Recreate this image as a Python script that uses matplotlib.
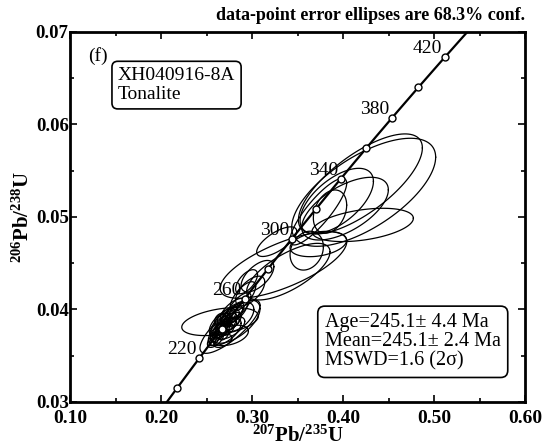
import matplotlib
matplotlib.use("Agg")

import numpy as np
import matplotlib.pyplot as plt

plt.rcParams["font.family"] = ["Liberation Serif", "DejaVu Serif"]
plt.rcParams["mathtext.fontset"] = "custom"
plt.rcParams["mathtext.rm"] = "Liberation Serif"
plt.rcParams["mathtext.bf"] = "Liberation Serif:bold"

# ---- Decay constants (per Ma) and concordia tick ages ----
LAMBDA_235 = 9.8485e-4
LAMBDA_238 = 1.55125e-4
tick_ages = [200, 220, 240, 260, 280, 300, 320, 340, 360, 380, 400, 420, 440]
label_ages = [220, 260, 300, 340, 380, 420]

# ---- Data-point error ellipses (207/235, 206/238, err x, err y, rho) ----
ell_x = [0.4227, 0.4191, 0.4216, 0.4022, 0.3931, 0.3857, 0.3729, 0.3729,
         0.3345, 0.3601, 0.3399, 0.3271,
         0.2649, 0.2758, 0.2813,
         0.262, 0.266, 0.270, 0.268, 0.274, 0.272, 0.278, 0.264, 0.276,
         0.280, 0.286, 0.270, 0.260, 0.284, 0.290, 0.298, 0.294, 0.306,
         0.276, 0.268,
         0.258, 0.263, 0.267, 0.271, 0.275, 0.279, 0.283, 0.265, 0.273,
         0.269, 0.277, 0.261, 0.272, 0.281, 0.266]
ell_y = [0.05267, 0.05357, 0.04914, 0.05090, 0.05173, 0.05058, 0.05058, 0.04708,
         0.04481, 0.04636, 0.04409, 0.04733,
         0.03869, 0.03814, 0.03869,
         0.0372, 0.0378, 0.0382, 0.0388, 0.0386, 0.0392, 0.0394, 0.0384, 0.0380,
         0.0398, 0.0404, 0.0376, 0.0368, 0.0392, 0.0414, 0.0420, 0.0430, 0.0436,
         0.0372, 0.0366,
         0.0366, 0.0374, 0.0380, 0.0384, 0.0389, 0.0393, 0.0399, 0.0390, 0.0378,
         0.0372, 0.0384, 0.0379, 0.0387, 0.0386, 0.0382]
ell_ex = [0.0791, 0.0681, 0.0557, 0.0476, 0.0403, 0.0183, 0.0311, 0.0311,
          0.0696, 0.0183, 0.0458, 0.0220,
          0.0421, 0.0330, 0.0275,
          0.008, 0.010, 0.012, 0.009, 0.014, 0.010, 0.012, 0.011, 0.016,
          0.015, 0.013, 0.018, 0.009, 0.018, 0.014, 0.016, 0.012, 0.018,
          0.020, 0.010,
          0.005, 0.006, 0.007, 0.006, 0.008, 0.007, 0.008, 0.006, 0.007,
          0.005, 0.006, 0.006, 0.004, 0.005, 0.004]
ell_ey = [0.00584, 0.00541, 0.00180, 0.00339, 0.00353, 0.00234, 0.00360, 0.00137,
          0.00360, 0.00210, 0.00306, 0.00160,
          0.00151, 0.00288, 0.00234,
          0.0007, 0.0009, 0.0010, 0.0008, 0.0011, 0.0009, 0.0010, 0.0012, 0.0012,
          0.0014, 0.0014, 0.0015, 0.0009, 0.0016, 0.0016, 0.0016, 0.0013, 0.0017,
          0.0011, 0.0007,
          0.0005, 0.0006, 0.0007, 0.0006, 0.0007, 0.0007, 0.0008, 0.0006, 0.0006,
          0.0005, 0.0006, 0.0006, 0.0004, 0.0005, 0.0004]
ell_rho = [0.65, 0.72, 0.40, 0.60, 0.60, 0.30, 0.85, 0.30,
           0.70, 0.20, 0.70, 0.70,
           0.40, 0.80, 0.60,
           0.6, 0.6, 0.6, 0.5, 0.6, 0.5, 0.6, 0.6, 0.6,
           0.6, 0.7, 0.6, 0.6, 0.5, 0.7, 0.6, 0.6, 0.6,
           0.4, 0.5,
           0.5, 0.5, 0.6, 0.5, 0.6, 0.5, 0.6, 0.4, 0.5,
           0.5, 0.4, 0.5, 0.4, 0.5, 0.4]

sample_name = "XH040916-8A\nTonalite"
result_text = "Age=245.1\u00b1 4.4 Ma\nMean=245.1\u00b1 2.4 Ma\nMSWD=1.6 (2\u03c3)"

# ---- Figure ----
fig = plt.figure(figsize=(5.5, 4.46), dpi=100)
ax = fig.add_axes([0.1273, 0.0987, 0.8273, 0.8296])

# ellipses
t = np.linspace(0, 2 * np.pi, 120)
for cx, cy, ex, ey, r in zip(ell_x, ell_y, ell_ex, ell_ey, ell_rho):
    xs = cx + ex * np.cos(t)
    ys = cy + ey * (r * np.cos(t) + np.sqrt(1 - r ** 2) * np.sin(t))
    ax.plot(xs, ys, color="black", lw=0.9, zorder=2)

# concordia curve
ages = np.linspace(180, 450, 200)
ax.plot(np.exp(LAMBDA_235 * ages) - 1, np.exp(LAMBDA_238 * ages) - 1,
        color="black", lw=1.6, zorder=3)
ta = np.array(tick_ages)
ax.plot(np.exp(LAMBDA_235 * ta) - 1, np.exp(LAMBDA_238 * ta) - 1,
        "o", ms=5, mfc="white", mec="black", mew=1.0, zorder=4)
for a in label_ages:
    ax.annotate(str(a), (np.exp(LAMBDA_235 * a) - 1, np.exp(LAMBDA_238 * a) - 1),
                xytext=(-2, 0), textcoords="offset points", ha="right", va="bottom",
                fontsize=14, zorder=5)

ax.set_xlim(0.10, 0.60)
ax.set_ylim(0.03, 0.07)
ax.set_xticks([0.10, 0.20, 0.30, 0.40, 0.50, 0.60])
ax.set_xticklabels(["0.10", "0.20", "0.30", "0.40", "0.50", "0.60"],
                   fontsize=14, fontweight="bold")
ax.set_yticks([0.03, 0.04, 0.05, 0.06, 0.07])
ax.set_yticklabels(["0.03", "0.04", "0.05", "0.06", "0.07"],
                   fontsize=13.5, fontweight="bold")
ax.set_xticks(np.arange(0.15, 0.6, 0.1), minor=True)
ax.set_yticks([0.035, 0.045, 0.055, 0.065], minor=True)
ax.tick_params(which="both", direction="in", top=True, right=True, width=1.2)
ax.tick_params(which="major", length=5)
ax.tick_params(which="minor", length=3)
ax.tick_params(axis="x", pad=6)
ax.tick_params(axis="y", pad=1)
for s in ax.spines.values():
    s.set_linewidth(2)

ax.set_xlabel(r"$\mathbf{^{207}Pb/^{235}U}$", fontsize=15, labelpad=-1)
ax.set_ylabel(r"$\mathbf{^{206}Pb/^{238}U}$", fontsize=15, labelpad=1)

ax.text(0.04, 0.96, "(f)", transform=ax.transAxes, fontsize=14,
        va="top", ha="left")
ax.text(0.105, 0.905, sample_name, transform=ax.transAxes, fontsize=14,
        va="top", ha="left", linespacing=1.15,
        bbox=dict(boxstyle="round,pad=0.3", fc="white", ec="black", lw=1.2))
ax.text(0.56, 0.24, result_text, transform=ax.transAxes, fontsize=14.5,
        va="top", ha="left", linespacing=1.0,
        bbox=dict(boxstyle="round,pad=0.35", fc="white", ec="black", lw=1.2))

fig.text(0.955, 0.985, "data-point error ellipses are 68.3% conf.",
         fontsize=13, fontweight="bold", ha="right", va="top")

fig.savefig("out.png", dpi=100)
plt.close(fig)
